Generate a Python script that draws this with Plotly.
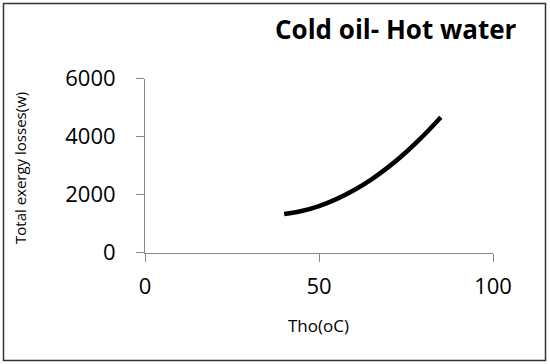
import plotly.graph_objects as go

# Data
tho = [40, 45, 50, 55, 60, 65, 70, 75, 80, 85]
exergy_losses = [1334, 1440, 1610, 1848, 2152, 2523, 2960, 3464, 4034, 4670]
x_ticks = [0, 50, 100]
y_ticks = [0, 2000, 4000, 6000]

W, H = 550, 364
FONT = "Open Sans"

fig = go.Figure()
fig.add_trace(go.Scatter(
    x=tho, y=exergy_losses, mode="lines",
    line=dict(color="black", width=4.5, shape="spline"),
    showlegend=False, hoverinfo="skip",
))

axis_color = "#868686"
fig.update_layout(
    width=W, height=H,
    autosize=False,
    margin=dict(l=0, r=0, t=0, b=0, pad=0, autoexpand=False),
    paper_bgcolor="white", plot_bgcolor="white",
    font=dict(family=FONT, color="black"),
    xaxis=dict(
        domain=[145 / W, 493 / W], range=[0, 100], automargin=False,
        tickvals=x_ticks, ticktext=[str(v) for v in x_ticks],
        showline=True, linecolor=axis_color, linewidth=1,
        ticks="outside", ticklen=8, tickcolor=axis_color, tickwidth=1,
        showgrid=False, zeroline=False,
        tickfont=dict(size=22, family=FONT, color="black"),
        ticklabelstandoff=6,
    ),
    yaxis=dict(
        domain=[(H - 252.7) / H, (H - 78.7) / H], range=[0, 6000], automargin=False,
        tickvals=y_ticks, ticktext=[str(v) for v in y_ticks],
        showline=True, linecolor=axis_color, linewidth=1,
        ticks="outside", ticklen=8, tickcolor=axis_color, tickwidth=1,
        showgrid=False, zeroline=False,
        tickfont=dict(size=22, family=FONT, color="black"),
        ticklabelstandoff=16,
    ),
    shapes=[dict(
        type="rect", xref="paper", yref="paper",
        x0=3.5 / W, x1=545.5 / W, y0=(H - 360.5) / H, y1=(H - 3.5) / H,
        line=dict(color="#333333", width=1.5),
    )],
    annotations=[
        dict(text="<b>Cold oil- Hot water</b>", xref="paper", yref="paper",
             x=396 / W, y=(H - 29) / H, xanchor="center", yanchor="middle",
             showarrow=False, font=dict(size=26, family=FONT, color="black")),
        dict(text="Tho(oC)", xref="paper", yref="paper",
             x=318 / W, y=(H - 325) / H, xanchor="center", yanchor="middle",
             showarrow=False, font=dict(size=17, family=FONT, color="black")),
        dict(text="Total exergy losses(w)", xref="paper", yref="paper",
             x=20 / W, y=(H - 168) / H, xanchor="center", yanchor="middle",
             textangle=-90, showarrow=False,
             font=dict(size=15, family=FONT, color="black")),
    ],
)

post = (
    "document.documentElement.style.margin='0';"
    "document.documentElement.style.padding='0';"
    "document.documentElement.style.overflow='hidden';"
    "document.body.style.margin='0';"
    "document.body.style.padding='0';"
    "document.body.style.overflow='hidden';"
)
fig.write_html("out.html", config={"displayModeBar": False, "staticPlot": True},
               post_script=post)
